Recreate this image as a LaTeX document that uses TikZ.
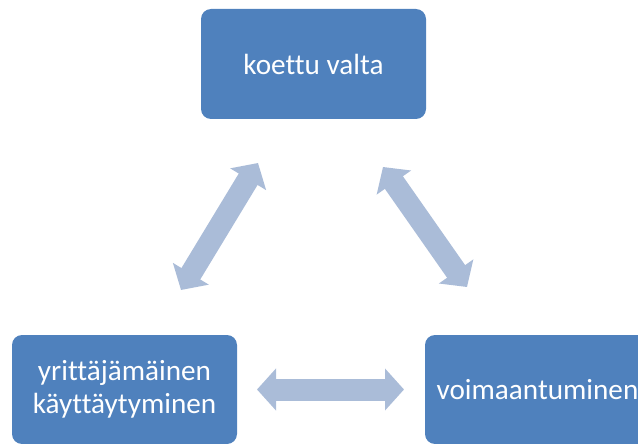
\documentclass[tikz,border=0pt]{standalone}
\usepackage{fontspec}
\setmainfont{Carlito}[Ligatures=NoCommon]
\usetikzlibrary{arrows.meta}
\definecolor{boxblue}{RGB}{79,129,189}
\definecolor{arrblue}{RGB}{170,188,216}
\begin{document}
\begin{tikzpicture}[x=1pt,y=-1pt,
  box/.style={fill=boxblue, rounded corners=10pt, text=white,
    font=\fontsize{29.2}{32.5}\selectfont, align=center,
    minimum width=225pt, minimum height=110pt, inner sep=0pt},
  dbl/.style={draw=arrblue, line width=22pt,
    {Triangle[length=19pt,width=41pt]}-{Triangle[length=19pt,width=41pt]}}]
\useasboundingbox (0,0) rectangle (638,444);
\clip (0,0) rectangle (638,444);
\node[box] (top) at (313.5,64) {koettu valta};
\node[box, minimum height=109pt] (bl) at (124.5,389.5) {yrittäjämäinen\\käyttäytyminen};
\node[box, minimum height=109pt] (br) at (537.5,389.5) {voimaantuminen};
\coordinate (l1) at (181,290);
\coordinate (l2) at (258,163);
\coordinate (r1) at (383,167);
\coordinate (r2) at (467,287);
\coordinate (h1) at (257,389.5);
\coordinate (h2) at (404,389.5);
\draw[dbl] (l1) -- (l2);
\draw[dbl] (r1) -- (r2);
\draw[dbl] (h1) -- (h2);
\end{tikzpicture}
\end{document}
